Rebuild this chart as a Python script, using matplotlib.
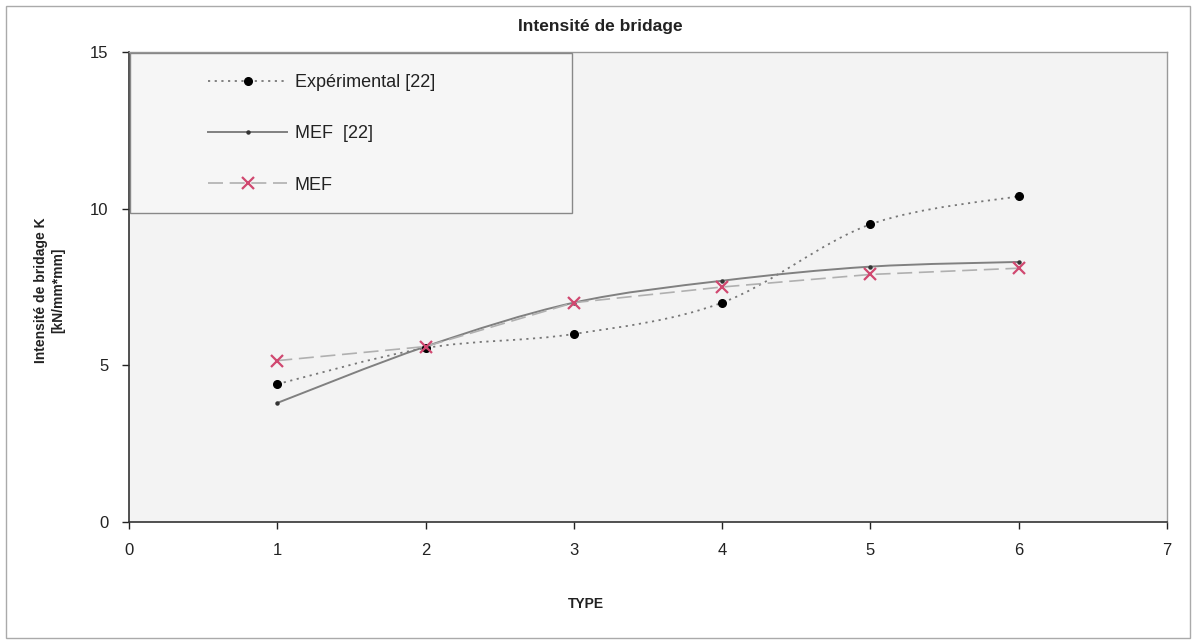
import matplotlib
matplotlib.use("Agg")
import matplotlib.pyplot as plt
from matplotlib.path import Path
from matplotlib.patches import PathPatch, Rectangle
from matplotlib.lines import Line2D
import numpy as np

plt.rcParams['font.family'] = ['Liberation Sans', 'DejaVu Sans']

# data
types = [1, 2, 3, 4, 5, 6]
experimental = [4.4, 5.55, 6.0, 7.0, 9.5, 10.4]
mef_22 = [3.8, 5.6, 7.0, 7.7, 8.15, 8.3]
mef = [5.15, 5.6, 7.0, 7.5, 7.9, 8.1]

title = "Intensité de bridage"
ylabel = "Intensité de bridage K\n[kN/mm*mm]"
xlabel = "TYPE"
labels = ["Expérimental [22]", "MEF  [22]", "MEF"]


def smooth_path(xs, ys):
    # Excel-like smoothed line: cubic bezier segments (Catmull-Rom controls)
    p = np.column_stack([xs, ys]).astype(float)
    n = len(p)
    verts = [p[0]]
    codes = [Path.MOVETO]
    for i in range(n - 1):
        p0 = p[i - 1] if i > 0 else p[i]
        p3 = p[i + 2] if i + 2 < n else p[i + 1]
        c1 = p[i] + (p[i + 1] - p0) / 6
        c2 = p[i + 1] - (p3 - p[i]) / 6
        verts += [c1, c2, p[i + 1]]
        codes += [Path.CURVE4] * 3
    return Path(verts, codes)


def make_chart():
    fig = plt.figure(figsize=(11.96, 6.44), dpi=100)
    ax = fig.add_axes([129 / 1196, 1 - 522 / 644, 1038 / 1196, 470 / 644])
    ax.set_facecolor('#f3f3f3')

    exp_col = '#777777'
    mef22_col = '#808080'
    mef_col = '#b0b0b0'
    red = '#d04870'

    # experimental: smoothed dotted line + black dots
    ax.add_patch(PathPatch(smooth_path(types, experimental), fill=False,
                           edgecolor=exp_col, lw=1.3, linestyle=(0, (1.2, 2.5))))
    ax.plot(types, experimental, linestyle='none', marker='o', ms=5.5,
            color='black', zorder=3)

    # MEF [22]: smoothed solid line + small dots
    ax.add_patch(PathPatch(smooth_path(types, mef_22), fill=False,
                           edgecolor=mef22_col, lw=1.4))
    ax.plot(types, mef_22, linestyle='none', marker='o', ms=2.2,
            color='#333333', zorder=3)

    # MEF: dashed line + red crosses
    ax.plot(types, mef, linestyle=(0, (9, 4)), lw=1.2, color=mef_col,
            marker='x', ms=9, mew=1.6, mec=red, zorder=4)

    ax.set_xlim(0, 7)
    ax.set_ylim(0, 15)
    ax.set_xticks(range(0, 8))
    ax.set_yticks([0, 5, 10, 15])
    ax.tick_params(direction='out', length=5, width=1, labelsize=12,
                   colors='#222222', pad=10)

    for side in ['left', 'bottom']:
        ax.spines[side].set_color('#333333')
        ax.spines[side].set_linewidth(1.2)
    for side in ['top', 'right']:
        ax.spines[side].set_color('#999999')
        ax.spines[side].set_linewidth(1.0)

    fig.text(600 / 1196, 1 - 27 / 644, title, ha='center', va='center',
             fontsize=12.5, fontweight='bold', color='#222222')
    fig.text(50 / 1196, 1 - 290 / 644, ylabel, ha='center', va='center',
             rotation=90, fontsize=10, fontweight='bold', color='#222222',
             linespacing=1.3)
    fig.text(586 / 1196, 1 - 604 / 644, xlabel, ha='center', va='center',
             fontsize=10, fontweight='bold', color='#222222')

    # legend box drawn as a rectangle, legend itself frameless
    ax.add_patch(Rectangle((0.001, 1 - (213 - 52) / 470), (572 - 130) / 1038,
                           (213 - 53) / 470, transform=ax.transAxes,
                           facecolor='#f6f6f6', edgecolor='#888888', lw=1.0,
                           zorder=6))
    handles = [
        Line2D([], [], color=exp_col, lw=1.3, linestyle=(0, (1.2, 2.5)),
               marker='o', ms=5.5, mfc='black', mec='black'),
        Line2D([], [], color=mef22_col, lw=1.4, marker='o', ms=2.2,
               mfc='#333333', mec='#333333'),
        Line2D([], [], color=mef_col, lw=1.2, linestyle=(0, (9, 4)),
               marker='x', ms=9, mew=1.6, mec=red),
    ]
    leg = ax.legend(handles, labels, loc='upper left',
                    bbox_to_anchor=((208 - 129) / 1038, 1 - (74 - 52) / 470),
                    frameon=False, fontsize=13, handlelength=4.4,
                    handletextpad=0.4, labelspacing=1.9, borderpad=0,
                    borderaxespad=0, numpoints=1)
    leg.set_zorder(7)
    for t in leg.get_texts():
        t.set_color('#222222')

    # outer chart border
    fig.patches.append(Rectangle((6 / 1196, 6 / 644), 1184 / 1196, 632 / 644,
                                 transform=fig.transFigure, fill=False,
                                 edgecolor='#aaaaaa', lw=1.0))

    fig.savefig('out.png', dpi=100)


if __name__ == "__main__":
    make_chart()
